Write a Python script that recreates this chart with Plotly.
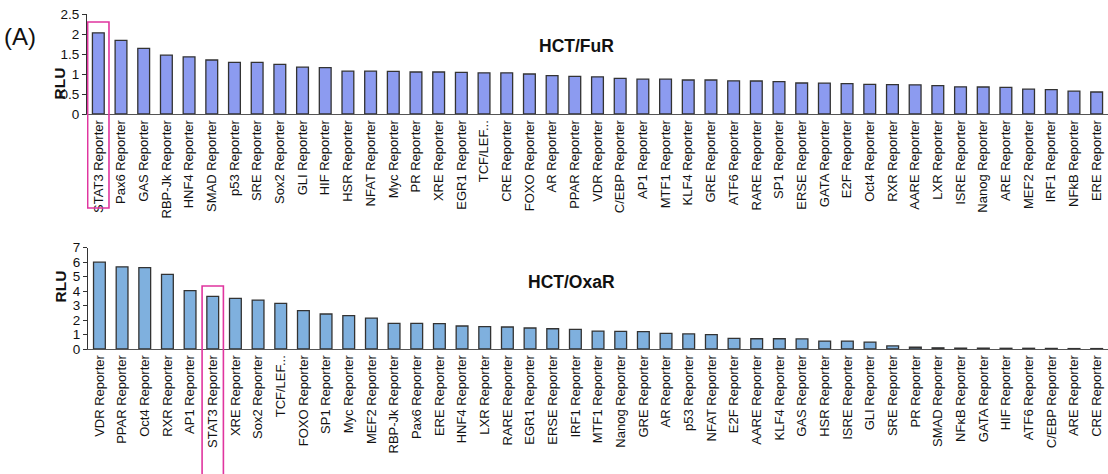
import plotly.graph_objects as go

# ---------------- data ----------------
fur_labels = ["STAT3", "Pax6", "GAS", "RBP-Jk", "HNF4", "SMAD", "p53", "SRE", "Sox2", "GLI",
              "HIF", "HSR", "NFAT", "Myc", "PR", "XRE", "EGR1", "TCF/LEF", "CRE", "FOXO",
              "AR", "PPAR", "VDR", "C/EBP", "AP1", "MTF1", "KLF4", "GRE", "ATF6", "RARE",
              "SP1", "ERSE", "GATA", "E2F", "Oct4", "RXR", "AARE", "LXR", "ISRE", "Nanog",
              "ARE", "MEF2", "IRF1", "NFkB", "ERE"]
fur_values = [2.03, 1.84, 1.64, 1.47, 1.43, 1.35, 1.29, 1.29, 1.24, 1.17,
              1.16, 1.07, 1.07, 1.065, 1.05, 1.05, 1.04, 1.03, 1.03, 1.00,
              0.96, 0.94, 0.93, 0.89, 0.87, 0.87, 0.85, 0.85, 0.83, 0.825,
              0.81, 0.775, 0.77, 0.76, 0.74, 0.735, 0.73, 0.71, 0.68, 0.675,
              0.665, 0.62, 0.61, 0.57, 0.55]

oxa_labels = ["VDR", "PPAR", "Oct4", "RXR", "AP1", "STAT3", "XRE", "Sox2", "TCF/LEF", "FOXO",
              "SP1", "Myc", "MEF2", "RBP-Jk", "Pax6", "ERE", "HNF4", "LXR", "RARE", "EGR1",
              "ERSE", "IRF1", "MTF1", "Nanog", "GRE", "AR", "p53", "NFAT", "E2F", "AARE",
              "KLF4", "GAS", "HSR", "ISRE", "GLI", "SRE", "PR", "SMAD", "NFκB", "GATA",
              "HIF", "ATF6", "C/EBP", "ARE", "CRE"]
oxa_values = [6.0, 5.68, 5.62, 5.15, 4.03, 3.64, 3.5, 3.38, 3.15, 2.65,
              2.42, 2.30, 2.14, 1.77, 1.77, 1.75, 1.59, 1.54, 1.52, 1.45,
              1.40, 1.36, 1.24, 1.22, 1.20, 1.08, 1.04, 0.99, 0.74, 0.71,
              0.71, 0.70, 0.55, 0.55, 0.48, 0.21, 0.12, 0.08, 0.06, 0.06,
              0.05, 0.05, 0.04, 0.03, 0.03]

fur_ticks = [0, 0.5, 1, 1.5, 2, 2.5]
oxa_ticks = [0, 1, 2, 3, 4, 5, 6, 7]
highlight = "STAT3"


def tick_text(lbl):
    return "TCF/LEF..." if lbl == "TCF/LEF" else lbl + " Reporter"


FONT = "Liberation Sans, Arial, sans-serif"
TOP_COLOR = "#8C9BF0"
BOT_COLOR = "#7FB0DE"
EDGE = "#333333"
MAGENTA = "#E0359F"

fig = go.Figure()
fig.add_trace(go.Bar(x=list(range(len(fur_values))), y=fur_values,
                     marker=dict(color=TOP_COLOR, line=dict(color=EDGE, width=1.3)),
                     xaxis="x", yaxis="y", width=0.52, showlegend=False))
fig.add_trace(go.Bar(x=list(range(len(oxa_values))), y=oxa_values,
                     marker=dict(color=BOT_COLOR, line=dict(color=EDGE, width=1.3)),
                     xaxis="x2", yaxis="y2", width=0.52, showlegend=False))

H = 474.0
W = 1108.0


def fy(px):
    return (H - px) / H


common_x = dict(showgrid=False, zeroline=False, showline=True, linecolor="#555555",
                linewidth=1, ticks="", tickangle=-90, automargin=False,
                tickfont=dict(family=FONT, size=13, color="#111111"),
                range=[-0.5, len(fur_values) - 0.5], tickmode="array")
common_y = dict(showgrid=False, zeroline=False, showline=True, linecolor="#333333",
                linewidth=1, ticks="outside", ticklen=4, tickcolor="#333333",
                automargin=False, tickfont=dict(family=FONT, size=13.5, color="#111111"),
                tickmode="array")

fig.update_layout(
    width=1108, height=474,
    margin=dict(l=0, r=0, t=0, b=0),
    paper_bgcolor="white", plot_bgcolor="white",
    xaxis=dict(common_x, domain=[0.0785, 1.0], anchor="y",
               tickvals=list(range(len(fur_labels))),
               ticktext=[tick_text(l) for l in fur_labels]),
    yaxis=dict(common_y, domain=[fy(114), fy(14)], anchor="x", range=[0, 2.5],
               tickvals=fur_ticks, ticktext=[f"{t:g}" for t in fur_ticks]),
    xaxis2=dict(common_x, domain=[0.0795, 1.0], anchor="y2",
                tickvals=list(range(len(oxa_labels))),
                ticktext=[tick_text(l) for l in oxa_labels]),
    yaxis2=dict(common_y, domain=[fy(349), fy(247.7)], anchor="x2", range=[0, 7],
                tickvals=oxa_ticks, ticktext=[str(t) for t in oxa_ticks]),
)

# axis titles
for ycen in (66, 287):
    fig.add_annotation(text="<b>RLU</b>", xref="paper", yref="paper", x=49 / W, y=fy(ycen),
                       textangle=-90, showarrow=False,
                       font=dict(family=FONT, size=15.5, color="#111"))

# titles and panel letter
fig.add_annotation(text="<b>HCT/FuR</b>", xref="paper", yref="paper", x=576 / W, y=fy(34),
                   showarrow=False, font=dict(family=FONT, size=17.5, color="#111"))
fig.add_annotation(text="<b>HCT/OxaR</b>", xref="paper", yref="paper", x=571 / W, y=fy(282),
                   showarrow=False, font=dict(family=FONT, size=17.5, color="#111"))
fig.add_annotation(text="(A)", xref="paper", yref="paper", x=2 / W, y=fy(21),
                   xanchor="left", showarrow=False, font=dict(family=FONT, size=24, color="#111"))

# highlight boxes around STAT3
i_top = fur_labels.index(highlight)
i_bot = oxa_labels.index(highlight)
fig.add_shape(type="rect", xref="x", yref="paper", x0=i_top - 0.47, x1=i_top + 0.47,
              y0=fy(208), y1=fy(22), line=dict(color=MAGENTA, width=1.6))
fig.add_shape(type="rect", xref="x2", yref="paper", x0=i_bot - 0.47, x1=i_bot + 0.47,
              y0=fy(476), y1=fy(286), line=dict(color=MAGENTA, width=1.6))

fig.write_html("out.html", config={"displayModeBar": False},
               post_script="document.body.style.margin='0';document.body.style.overflow='hidden';")
